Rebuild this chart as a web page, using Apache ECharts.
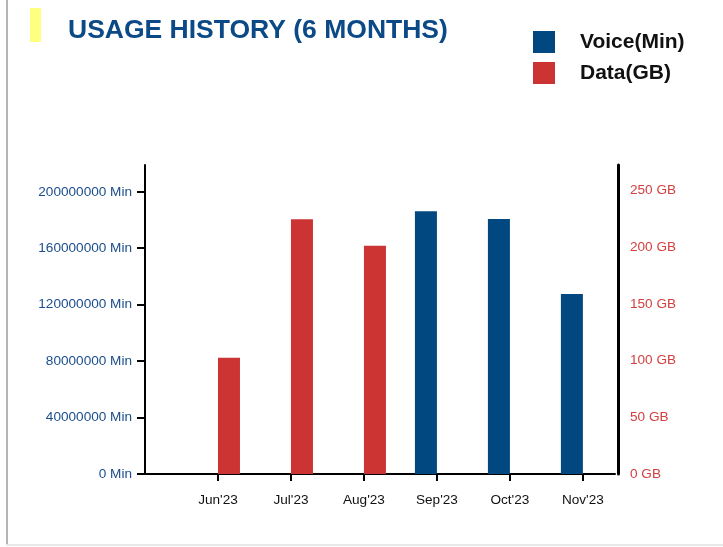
<!DOCTYPE html>
<html>
<head>
<meta charset="utf-8">
<script src="https://cdn.jsdelivr.net/npm/echarts@6/dist/echarts.min.js"></script>
<style>
  html, body { margin: 0; padding: 0; background: #fff; }
  #main { width: 723px; height: 547px; }
</style>
</head>
<body>
<div id="main"></div>
<script>
// 月份
var months = ["Jun'23", "Jul'23", "Aug'23", "Sep'23", "Oct'23", "Nov'23"];
// 语音 (Min)
var voiceMin = [0, 0, 0, 186300000, 180700000, 127600000];
// 流量 (GB)
var dataGB = [102.5, 224.7, 201.2, 0, 0, 0];
// 刻度
var voiceTicks = [0, 40000000, 80000000, 120000000, 160000000, 200000000];
var dataTicks = [0, 50, 100, 150, 200, 250];
var monthTicks = months.map(function (m, i) { return i + 1; });

var font = 'Liberation Sans, Arial, sans-serif';
var myChart = echarts.init(document.getElementById('main'));

myChart.setOption({
    animation: false,
    textStyle: { fontFamily: font },
    title: {
        text: 'USAGE HISTORY (6 MONTHS)',
        left: 63,
        top: 12,
        textStyle: { fontSize: 26.5, fontWeight: 'bold', color: '#0b4a86', fontFamily: font }
    },
    legend: {
        orient: 'vertical',
        left: 533,
        top: 31,
        padding: 0,
        itemWidth: 22,
        itemHeight: 22,
        itemGap: 9,
        icon: 'rect',
        textStyle: { fontSize: 21, fontWeight: 'bold', color: '#111', fontFamily: font, padding: [0, 0, 0, 20] },
        data: ['Voice(Min)', 'Data(GB)']
    },
    graphic: [
        { type: 'rect', shape: { x: 30, y: 8, width: 11, height: 34 }, style: { fill: '#ffff80' } },
        { type: 'rect', shape: { x: 6, y: 0, width: 2, height: 546 }, style: { fill: '#b4b4b4' } },
        { type: 'rect', shape: { x: 6, y: 544, width: 717, height: 2 }, style: { fill: '#e8e8e8' } }
    ],
    grid: { left: 145, right: 108, top: 165, bottom: 73 },
    xAxis: {
        type: 'value',
        min: 0,
        max: 6.44,
        interval: 1,
        splitLine: { show: false },
        axisLine: { show: true, lineStyle: { color: '#000', width: 2 } },
        axisTick: { show: true, length: 7, customValues: monthTicks, lineStyle: { color: '#000', width: 2 } },
        axisLabel: {
            customValues: monthTicks,
            margin: 19,
            fontSize: 13.6,
            color: '#111',
            formatter: function (v) { return months[Math.round(v) - 1] || ''; }
        }
    },
    yAxis: [{
        type: 'value',
        min: 0,
        max: 219000000,
        interval: 40000000,
        splitLine: { show: false },
        axisLine: { show: true, lineStyle: { color: '#000', width: 2 } },
        axisTick: { show: true, length: 8, customValues: voiceTicks, lineStyle: { color: '#000', width: 2 } },
        axisLabel: {
            customValues: voiceTicks,
            margin: 13,
            fontSize: 13.6,
            color: '#1a4e8c',
            formatter: function (v) { return v + ' Min'; }
        }
    }, {
        type: 'value',
        position: 'right',
        offset: 3,
        min: 0,
        max: 272.5,
        interval: 50,
        splitLine: { show: false },
        axisLine: { show: true, lineStyle: { color: '#000', width: 3 } },
        axisTick: { show: false },
        axisLabel: {
            customValues: dataTicks,
            margin: 12,
            fontSize: 13.6,
            color: '#d2403f',
            formatter: function (v) { return v + ' GB'; }
        }
    }],
    series: [{
        name: 'Voice(Min)',
        type: 'bar',
        yAxisIndex: 0,
        barWidth: 22,
        barGap: '0%',
        itemStyle: { color: '#00487f' },
        data: voiceMin.map(function (v, i) { return [i + 1, v]; })
    }, {
        name: 'Data(GB)',
        type: 'bar',
        yAxisIndex: 1,
        barWidth: 22,
        barGap: '0%',
        itemStyle: { color: '#cc3434' },
        data: dataGB.map(function (v, i) { return [i + 1, v]; })
    }]
});
</script>
</body>
</html>
